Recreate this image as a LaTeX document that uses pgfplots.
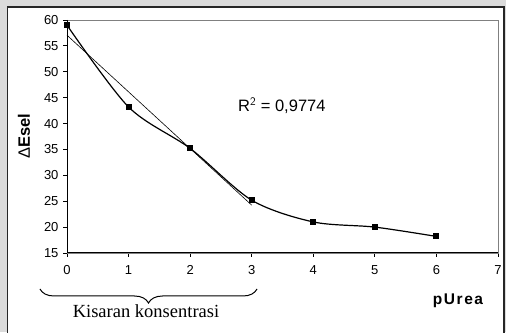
\documentclass[border=0pt]{standalone}
\usepackage{pgfplots}
\pgfplotsset{compat=1.18}
\usepackage{fontspec}
\setmainfont{Liberation Sans}
\newfontfamily\seriffont{Liberation Serif}
\usetikzlibrary{decorations.pathreplacing}
\begin{document}
\begin{tikzpicture}[x=1pt,y=1pt]
\useasboundingbox (0,0) rectangle (506,332);
\clip (0,0) rectangle (506,332);
\fill[black!14] (0,0) rectangle (506,332);
\draw[line width=1.4pt, black!85, fill=white] (7.5,-5) rectangle (504,325);
\begin{axis}[
  at={(67pt,79pt)}, anchor=south west,
  width=431pt, height=233pt, scale only axis,
  xmin=0, xmax=7, ymin=15, ymax=60,
  xtick={0,1,...,7}, ytick={15,20,...,60},
  xtick pos=bottom, ytick pos=left,
  tick align=outside, major tick length=4pt,
  tick style={black, line width=0.8pt},
  axis line style={black!50, line width=0.8pt},
  /pgf/number format/assume math mode=true,
  tick label style={font=\fontsize{13}{15}\selectfont},
  xticklabel style={yshift=-5pt},
  yticklabel style={xshift=-1pt},
  clip=false,
]
\draw[black, line width=1pt] (rel axis cs:0,1) -- (rel axis cs:0,0) -- (rel axis cs:1,0);
% linear trend line (points 0-3)
\addplot[black, line width=0.6pt] coordinates {(0,57.06) (3,24.24)};
% data curve
\addplot[black, line width=1.2pt, smooth, tension=0.5, mark=square*, mark size=2.4pt, mark options={solid}] coordinates {
(0,59.0) (1,43.2) (2,35.2) (3,25.2) (4,21.0) (5,20.0) (6,18.2)
};
\end{axis}
\node[anchor=base west, inner sep=0pt] at (238,220) {\fontsize{16.5}{18}\selectfont R$^{\mathsf{2}}$ = 0,9774};
\node[rotate=90, inner sep=0pt] at (24,196) {\fontsize{16.5}{18}\selectfont Δ\textbf{Esel}};
\node[inner sep=0pt] at (458,31) {\fontsize{15.5}{17}\selectfont\bfseries\addfontfeature{LetterSpace=10}pUrea};
\draw[line width=1pt, decorate, decoration={brace, mirror, amplitude=14pt}] (40,43) -- (257,43);
\node[anchor=base, inner sep=0pt] at (146,15) {\seriffont\fontsize{18.5}{20}\selectfont Kisaran konsentrasi};
\end{tikzpicture}
\end{document}
